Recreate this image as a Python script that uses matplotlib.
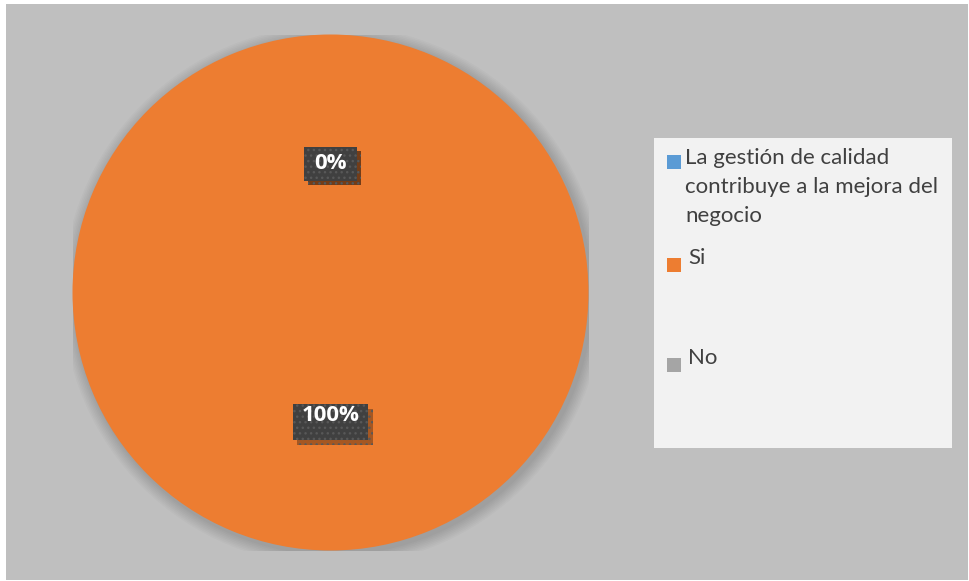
import matplotlib.pyplot as plt
from matplotlib.patches import Rectangle, Circle
from matplotlib.path import Path
from matplotlib.transforms import ScaledTranslation
import matplotlib.patheffects as pe

# Survey answers
categories = ["La gestión de calidad\ncontribuye a la mejora del\nnegocio", "Si", "No"]
values = [0, 100, 0]
colors = ["#5B9BD5", "#ED7D31", "#A5A5A5"]

W, H = 969, 581
fig = plt.figure(figsize=(W / 100, H / 100), dpi=100, facecolor="white")

# gray chart area
fig.patches.append(Rectangle((6 / W, 1 / H), 962 / W, 576 / H, transform=fig.transFigure,
                             facecolor="#BFBFBF", edgecolor="none", zorder=-5))

# pie axes (pixel geometry)
cx, cy, r = 330.5, H - 292.5, 258
ax = fig.add_axes([(cx - r) / W, (cy - r) / H, 2 * r / W, 2 * r / H])

# soft shadow around the pie
for i in range(8):
    ax.add_patch(Circle((0.01, -0.012), 1.0 + 0.006 * (8 - i), facecolor="black",
                        edgecolor="none", alpha=0.018, zorder=0))

wedges, texts, autotexts = ax.pie(
    values, colors=colors, startangle=90, counterclock=False, radius=1,
    autopct=lambda p: f"{p:.0f}%", pctdistance=0.5,
    wedgeprops=dict(linewidth=0),
    textprops=dict(color="white", fontweight="bold", family="Open Sans", fontsize=16),
)
for t in texts:
    t.set_visible(False)


def padded_box(left, right, top, bottom):
    """Square label box with separate paddings (pixels) on each side."""
    def style(x0, y0, width, height, mutation_size):
        xa, xb = x0 - left, x0 + width + right
        ya, yb = y0 - bottom, y0 + height + top
        return Path([(xa, ya), (xb, ya), (xb, yb), (xa, yb), (xa, ya)], closed=True)
    return style


for t in autotexts:
    if t.get_text() == "100%":
        t.set_transform(t.get_transform() + ScaledTranslation(0, 6 / 100, fig.dpi_scale_trans))
        box = padded_box(9, 9, 1, 14)
    else:
        box = padded_box(10.5, 10.5, 6.5, 6.5)
    t.set_bbox(dict(boxstyle=box, facecolor="#404040",
                    edgecolor="#585858", linewidth=0, hatch="..."))
    t.get_bbox_patch().set_path_effects([
        pe.SimplePatchShadow(offset=(3, -3.5), shadow_rgbFace="black", alpha=0.3),
        pe.Normal(),
    ])
    t.set_zorder(5)

ax.set_xlim(-1, 1)
ax.set_ylim(-1, 1)
ax.set_aspect("equal")
ax.axis("off")

# legend, drawn in pixel coordinates
ov = fig.add_axes([0, 0, 1, 1])
ov.set_xlim(0, W)
ov.set_ylim(H, 0)
ov.axis("off")
ov.add_patch(Rectangle((654, 138), 298, 310, facecolor="#F2F2F2", edgecolor="none"))
for i, (lab, col) in enumerate(zip(categories, colors)):
    base = 164 + 100 * i
    ov.add_patch(Rectangle((667, base - 9 + (3 if i else 0)), 14, 14,
                           facecolor=col, edgecolor="none"))
    for j, line in enumerate(lab.split("\n")):
        ov.text(685 if i == 0 else 688, base + 29 * j, line, ha="left", va="baseline",
                family="Lato", fontsize=16, color="#404040")

fig.savefig("out.png", dpi=100, facecolor="white")
